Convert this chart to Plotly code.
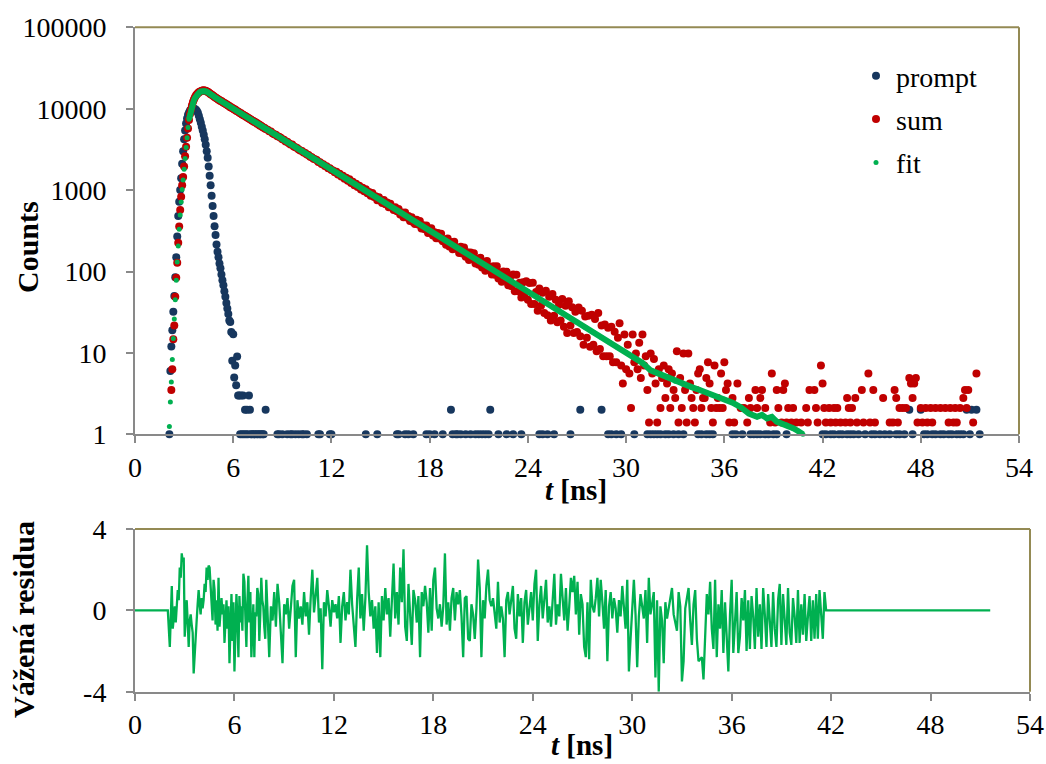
import plotly.graph_objects as go

FONT = "Liberation Serif"
BLUE = "#17375E"
RED = "#C00000"
GREEN = "#00B050"
GRAY = "#898989"
OLIVE = "#948A54"

# ---------------- data ----------------
# TCSPC channel time bases [ns]
EARLY_T0, EARLY_DT = 2.10, 0.06     # fine channels of the rise region
LATE_T0, LATE_DT = 8.1, 0.1         # later channels

# prompt (instrument response), counts per early channel (0 = empty)
prompt_early = [1, 6, 12, 19, 32, 50, 85, 150, 270, 480,
                720, 1000, 1400, 2100, 3000, 4200, 5400, 6600, 7600, 8400,
                9000, 9500, 9800, 10000, 10100, 10000, 9900, 9700, 9400, 8900,
                8200, 7400, 6700, 6000, 5400, 4800, 4200, 3600, 3000, 2500,
                1950, 1500, 1150, 850, 640, 480, 360, 280, 215, 175,
                150, 125, 110, 92, 78, 68, 57, 49, 41, 35,
                30, 25, 24, 18, 8, 17, 5, 7, 4, 9,
                3, 3, 1, 3, 1, 3, 1, 2, 1, 2,
                1, 3, 2, 1, 1, 0, 1, 1, 0, 1,
                1, 0, 1, 1, 0, 1, 1, 0, 2]
# prompt tail: isolated channels with counts
prompt_tail_t = [8.7, 8.8, 9.0, 9.3, 9.5, 9.6, 9.8, 10.0, 10.2, 10.3, 10.5,
                 11.2, 11.3, 11.9, 12.0, 14.1, 14.8, 16.0, 16.1, 16.5, 16.7, 17.0,
                 17.8, 18.0, 18.3, 18.8, 19.3, 19.4, 19.6, 19.7, 19.9, 20.2, 20.5,
                 20.8, 21.0, 21.2, 21.4, 21.6, 21.7, 22.2, 22.7, 23.1, 23.6, 24.7,
                 24.9, 25.2, 25.6, 26.6, 27.2, 28.5, 28.9, 29.1, 29.4, 29.7, 30.5,
                 31.3, 31.5, 31.7, 31.9, 32.1, 32.4, 32.6, 32.9, 33.2, 33.5, 34.4,
                 34.6, 34.9, 35.1, 35.3, 36.5, 36.7, 37.1, 37.6, 37.8, 38.0, 38.2,
                 38.5, 38.7, 39.0, 39.2, 39.8, 42.0, 42.2, 42.5, 42.7, 43.0, 43.2,
                 43.5, 43.7, 43.9, 44.2, 44.6, 45.0, 45.2, 45.5, 45.8, 46.1, 46.5,
                 46.7, 47.0, 47.3, 47.5, 48.0, 48.2, 48.4, 48.7, 48.9, 49.2, 49.4,
                 49.7, 49.9, 50.2, 50.4, 50.6, 50.8, 51.0, 51.1, 51.4, 51.6]
prompt_tail = [1, 1, 1, 1, 1, 1, 1, 1, 1, 1, 1,
               1, 1, 1, 1, 1, 1, 1, 1, 1, 1, 1,
               1, 1, 1, 1, 2, 1, 1, 1, 1, 1, 1,
               1, 1, 1, 1, 1, 2, 1, 1, 1, 1, 1,
               1, 1, 1, 1, 2, 2, 1, 1, 1, 1, 1,
               1, 1, 1, 1, 1, 1, 1, 1, 1, 1, 1,
               1, 1, 1, 1, 1, 1, 1, 1, 1, 1, 1,
               1, 1, 1, 1, 1, 1, 1, 1, 1, 1, 1,
               1, 1, 1, 1, 1, 1, 1, 1, 1, 1, 1,
               1, 1, 2, 1, 2, 1, 1, 1, 1, 1, 1,
               1, 1, 1, 1, 1, 2, 1, 2, 2, 1]

# sum (measured decay), early channels
sum_early = [None, None, 3.5, 6.3, 14.7, 21.7, 49, 84, 128, 226,
             356, 570, 830, 1150, 1450, 1950, 2600, 3400, 4400, 5700,
             7270, 8600, 9800, 11000, 12100, 13000, 13800, 14500, 15100, 15500,
             15900, 16200, 16400, 16600, 16700, 16800, 16650, 16600, 16300, 16100,
             15800, 15500, 15100, 14900, 14500, 14300, 13900, 13750, 13400, 13250,
             12900, 12800, 12450, 12400, 12050, 11950, 11650, 11550, 11250, 11150,
             10850, 10800, 10450, 10450, 10100, 10050, 9800, 9750, 9450, 9400,
             9150, 9050, 8800, 8800, 8500, 8450, 8230, 8200, 7950, 7900,
             7680, 7650, 7420, 7380, 7180, 7120, 6920, 6900, 6700, 6650,
             6450, 6450, 6230, 6200, 6050, 5980, 5830, 5800, 5640]
# sum, later channels 8.1 ... 30.0 ns
sum_late = [5530, 5290, 5230, 5010, 4860, 4800, 4590, 4510, 4390, 4200,
            4150, 3960, 3920, 3760, 3640, 3620, 3440, 3350, 3300, 3150,
            3060, 3030, 2890, 2850, 2730, 2700, 2570, 2540, 2420, 2400,
            2350, 2220, 2200, 2090, 2080, 1980, 1960, 1860, 1860, 1770,
            1740, 1660, 1680, 1560, 1590, 1470, 1500, 1380, 1420, 1300,
            1360, 1220, 1270, 1150, 1200, 1090, 1130, 1020, 1070, 970,
            1026, 912, 951, 851, 923, 821, 838, 751, 815, 739,
            696, 755, 671, 706, 614, 678, 610, 569, 617, 549,
            587, 502, 529, 464, 529, 462, 480, 418, 463, 403,
            383, 433, 377, 416, 338, 371, 330, 367, 298, 334,
            340, 276, 304, 256, 298, 255, 291, 235, 246, 213,
            255, 203, 230, 187, 232, 191, 195, 169, 201, 166,
            197, 152, 172, 138, 171, 142, 168, 125, 141, 121,
            148, 112, 130, 102, 135, 105, 114, 92, 116, 91,
            116, 82, 97, 75, 100, 78, 99, 68, 83, 66,
            92, 57, 91, 57, 73, 48, 74, 53, 76, 45,
            72, 40, 73, 40, 56, 33, 62, 38, 55, 31,
            58, 29, 49, 25, 53, 28.7, 45, 23.8, 39, 25,
            46, 21, 38, 17.5, 43, 21.7, 36.4, 17.5, 32, 18,
            36, 16, 32.9, 12.6, 28, 15.4, 28.7, 11.9, 29.4, 12.6,
            26, 10.5, 31, 11.2, 21.7, 9.1, 22.4, 9.1, 20.3, 9.1,
            21, 7.7, 18.2, 7.7, 15.4, 23.1, 7.0, 4.2, 16.8, 6.3]
# sum tail: non-empty channels beyond 30 ns
sum_tail_t = [30.1, 30.2, 30.3, 30.4, 30.5, 30.6, 30.7, 30.8, 30.9, 31.0,
              31.1, 31.2, 31.3, 31.4, 31.5, 31.6, 31.7, 31.8, 31.9, 32.0,
              32.1, 32.2, 32.3, 32.4, 32.5, 32.6, 32.7, 32.8, 32.9, 33.0,
              33.1, 33.2, 33.3, 33.4, 33.5, 33.6, 33.7, 33.8, 33.9, 34.0,
              34.1, 34.2, 34.3, 34.4, 34.5, 34.6, 34.7, 34.8, 34.9, 35.0,
              35.1, 35.2, 35.3, 35.4, 35.5, 35.6, 35.7, 35.8, 35.9, 36.0,
              36.1, 36.2, 36.3, 36.5, 36.6, 36.8, 37.0, 37.2, 37.4, 37.5,
              37.6, 37.9, 38.0, 38.2, 38.3, 38.5, 38.8, 38.9, 39.1, 39.2,
              39.3, 39.5, 39.6, 39.7, 39.8, 39.9, 40.1, 40.2, 40.4, 40.7,
              41.0, 41.1, 41.2, 41.5, 41.6, 41.7, 41.9, 42.0, 42.1, 42.2,
              42.4, 42.5, 42.7, 42.8, 42.9, 43.1, 43.4, 43.5, 43.6, 43.7,
              43.8, 44.0, 44.1, 44.4, 44.5, 44.8, 44.9, 45.1, 45.2, 45.7,
              46.1, 46.3, 46.4, 46.5, 46.6, 46.7, 46.9, 47.1, 47.3, 47.4,
              47.5, 47.6, 47.7, 47.8, 48.0, 48.1, 48.3, 48.4, 48.6, 48.7,
              48.9, 49.2, 49.5, 49.7, 49.8, 50.0, 50.1, 50.2, 50.4, 50.6,
              50.7, 50.8, 50.9, 51.2, 51.4]
sum_tail = [12.6, 5.6, 2.1, 16.8, 7.7, 9.8, 6.3, 13.3, 4.9, 16.8,
            7.0, 9.1, 3.5, 1.4, 9.8, 5.6, 8.4, 4.2, 1.4, 6.3,
            2.1, 4.9, 7.0, 2.8, 4.2, 6.3, 2.1, 5.6, 3.5, 2.8,
            10.5, 1.4, 4.9, 2.1, 9.8, 3.5, 1.4, 9.8, 4.2, 2.8,
            2.1, 1.4, 3.5, 5.6, 6.3, 2.1, 2.8, 2.8, 4.9, 7.7,
            4.2, 2.1, 1.4, 7.0, 2.1, 2.8, 2.1, 5.6, 2.1, 7.7,
            3.5, 4.2, 1.4, 2.8, 1.4, 4.2, 2.1, 2.1, 1.4, 2.8,
            2.1, 3.5, 2.1, 2.8, 3.5, 2.1, 1.4, 5.6, 1.4, 3.5,
            2.1, 1.4, 3.5, 4.2, 1.4, 2.1, 1.4, 2.1, 1.4, 1.4,
            2.1, 1.4, 3.5, 3.5, 2.1, 1.4, 7.0, 4.2, 2.1, 1.4,
            2.1, 1.4, 2.1, 1.4, 2.1, 1.4, 1.4, 2.8, 2.1, 1.4,
            2.1, 2.8, 1.4, 3.5, 1.4, 5.6, 1.4, 3.5, 1.4, 2.8,
            1.4, 1.4, 3.5, 2.8, 1.4, 2.1, 2.1, 2.1, 4.9, 4.2,
            2.8, 4.2, 4.9, 1.4, 2.1, 1.4, 2.1, 1.4, 2.1, 1.4,
            2.1, 2.1, 2.1, 1.4, 2.1, 1.4, 2.1, 1.4, 2.1, 2.8,
            3.5, 2.1, 3.5, 1.4, 5.6]

# fit: rise on the early channels, then the decay
fit_rise = [1.25, 2.5, 4.4, 8.3, 15, 26, 45, 78, 131, 206,
            330, 494, 713, 1020, 1330, 1800, 2440, 3330, 4410, 5880,
            7400, 8600, 9700, 10800, 11800, 12700, 13500, 14200, 14800, 15300,
            15700, 16000, 16250, 16400, 16500, 16500, 16450, 16350, 16200, 16000,
            15750, 15450, 15150, 14850, 14550, 14250, 13950, 13700, 13450, 13200]
fit_decay_t = [5.5, 6.0, 6.5, 7.0, 7.5, 8.0, 8.5, 9.0, 9.5, 10.0,
               10.5, 11.0, 11.5, 12.0, 12.5, 13.0, 13.5, 14.0, 14.5, 15.0,
               15.5, 16.0, 16.5, 17.0, 17.5, 18.0, 18.5, 19.0, 19.5, 20.0,
               20.5, 21.0, 21.5, 22.0, 22.5, 23.0, 23.5, 24.0, 24.5, 25.0,
               25.5, 26.0, 26.5, 27.0, 27.5, 28.0, 28.5, 29.0, 29.5, 30.0,
               30.5, 31.0, 31.5, 32.0, 32.5, 33.0, 33.5, 34.0, 34.5, 35.0,
               35.5, 36.0, 36.5, 37.0, 37.5, 38.0, 38.3, 38.6, 38.9, 39.2,
               39.5, 39.8, 40.2, 40.5, 40.8]
fit_decay = [11600, 10060, 8710, 7540, 6530, 5655, 4900, 4240, 3670, 3180,
             2754, 2385, 2065, 1789, 1549, 1341, 1161, 1006, 871, 754,
             653, 566, 490, 424, 367, 318, 275, 239, 207, 179,
             155, 134, 116, 101, 87, 75.4, 65.3, 56.6, 49.0, 42.4,
             36.7, 31.8, 27.6, 23.9, 20.7, 17.9, 15.5, 13.4, 11.6, 10.1,
             8.7, 7.55, 6.1, 5.5, 5.0, 4.5, 4.1, 3.8, 3.5, 3.2,
             2.9, 2.7, 2.45, 2.15, 1.8, 1.64, 1.73, 1.57, 1.64, 1.43,
             1.36, 1.30, 1.19, 1.10, 1.0]

# weighted residuals
resid_lead_t = [0.0, 1.98]
resid_lead = [0.0, 0.0]
resid_early = [-1.8, 0.4, 1.2, -0.9, -0.3, 0.2, -0.6, 0.6, 1.0, 0.5,
               2.1, 1.6, 2.8, 2.4, 2.6, -1.3, 0.1, 0.5, -0.6, -1.8,
               -0.5, -0.2, -0.7, -1.1, -3.1, -2.4, -1.6, -0.5, 0.3, 1.0,
               0.3, -0.2, 0.6, 0.1, 0.5, 1.3, 0.9, 2.1, 1.5, 2.2,
               2.1, 1.2, 0.6, -0.5, 1.5, 1.0, -0.7, 0.5, -1.0, 1.6,
               -0.8, 0.1, 0.6, -0.2, 0.3, -1.6, -0.4, 0.5, -0.9, 0.2,
               -2.6, -0.3, 0.8, -1.5, 0.4, -3.0, -0.8, 0.8, -0.4, -2.3,
               0.7, -0.6, 0.2, -1.0, 1.8, 1.4, -0.3, -1.8, 0.4, 1.7,
               -0.6, 0.9, -2.3, -0.4, 0.3, -2.3, -0.1, -0.3, 1.1, 0.8,
               -1.5, -0.2, 1.6, 0.5, 0.2, -0.8, -1.4, 1.5, 0.4]
resid_late = [-2.3, 0.2, -0.5, 0.9, -0.8, 1.3, 0.4, -1.1, -2.6, 0.3,
              -0.2, 0.6, -0.9, 0.1, 1.2, 1.5, -2.3, 0.5, -0.4, 0.2,
              -0.7, 0.9, -0.3, 0.4, -1.2, 0.6, 2.0, -0.1, 0.8, 1.6,
              -0.6, 0.1, -2.9, 0.4, -0.3, 1.0, 0.2, -0.8, 0.5, -0.1,
              0.3, -0.4, 0.7, -1.6, 0.2, 0.9, -0.5, 0.4, -0.2, 2.0,
              0.3, -0.6, -1.8, 0.5, 2.1, -0.4, 0.8, -1.0, 0.6, 3.2,
              0.9, -0.3, 0.5, -0.9, 0.2, -2.1, 0.4, -2.3, 0.7, -0.5,
              1.1, -0.2, 0.6, -1.3, 0.3, 2.3, -0.4, 0.9, -0.7, 2.1,
              0.4, 3.0, -0.8, -1.5, 1.3, -0.2, -1.7, 1.0, 0.5, -0.6,
              0.7, -2.3, 0.9, 0.2, 1.2, 0.4, -1.1, 1.1, -1.0, 1.5,
              2.1, 0.1, -0.4, 0.3, -0.8, 0.2, 2.8, -0.7, 0.4, -1.0,
              0.6, 1.1, -0.5, 0.9, 0.3, 1.0, -0.3, -2.3, 0.6, 0.7,
              -1.4, -1.5, 0.3, -0.2, -1.4, 0.1, 2.5, 1.1, -2.3, 0.5,
              -0.4, 1.2, 2.0, 0.5, 0.2, 0.6, -0.3, -0.9, 1.4, -0.6,
              0.2, -0.4, -2.3, 0.5, 0.9, -0.2, 0.5, 1.2, -0.9, -1.4,
              0.8, -0.3, 0.6, -1.6, 0.4, 1.0, -0.7, 0.3, 0.9, -0.5,
              1.3, 2.0, -1.5, 0.3, 1.2, -0.4, 0.5, 1.5, -0.6, 0.2,
              -0.8, 0.4, 1.8, -0.7, 0.3, -0.3, 1.8, 0.6, -0.5, 1.1,
              -1.0, 0.2, 1.6, 0.9, 1.7, -0.2, 1.4, -1.2, 0.8, 0.3,
              -1.8, -2.3, 0.4, -2.4, 1.5, 0.2, -0.1, 0.6, 1.6, -0.3,
              1.5, 0.4, -0.9, 1.0, -2.5, 0.2, 0.9, -0.4, 0.6, 0.1,
              -1.1, 0.5, -0.3, 1.2, 0.2, -0.9, 1.5, -3.0, -1.4, 0.4,
              1.5, -0.2, -2.8, -0.3, 0.8, 0.2, -0.4, 1.0, -1.6, 1.6,
              -0.2, 0.3, 0.9, -3.3, 0.5, -4.0, 0.2, -0.5, -2.6, 0.4,
              -0.4, 0.1, 0.7, 1.1, -0.2, -0.6, -1.0, 0.9, 0.2, -3.5,
              -2.5, 0.1, 0.6, 1.1, -0.5, -1.7, 0.3, 1.0, -1.4, -2.5,
              -2.4, -2.3, -3.4, -1.2, 0.8, -0.2, 1.4, -0.9, -1.9, 1.5,
              -2.3, 0.3, -0.9, 1.0, -2.1, 0.4, -1.1, -3.0, -0.2, 1.5,
              -2.1, -0.4, 0.9, -2.1, -1.3, 0.6, -0.5, 1.0, -2.0, 0.5,
              -1.9, 0.7, -0.3, -1.9, 1.1, -1.3, 0.3, -1.9, 1.1, -0.2,
              -1.8, 0.8, -0.6, -1.8, 0.9, -0.9, -1.8, 0.5, 1.3, -1.7,
              0.8, -0.4, -1.7, 1.1, -1.1, -1.7, 0.6, -0.3, -1.6, 1.0,
              -1.6, 0.3, -1.2, 0.8, -1.5, -0.3, 0.7, -1.5, 0.5, -1.4,
              0.8, -1.4, 1.0, -0.2, -1.4, 0.9, 0.0]
resid_trail_t = [51.6]
resid_trail = [0.0]

x_ticks = [0, 6, 12, 18, 24, 30, 36, 42, 48, 54]
y_ticks = [1, 10, 100, 1000, 10000, 100000]
y_ticklabels = ["1", "10", "100", "1000", "10000", "100000"]
r_ticks = [-4, 0, 4]


# ---------------- assemble channel times ----------------
def early_times(n):
    return [round(EARLY_T0 + EARLY_DT * i, 2) for i in range(n)]


def late_times(n):
    return [round(LATE_T0 + LATE_DT * j, 1) for j in range(n)]


def drop_empty(ts, vs):
    xs, ys = [], []
    for t, v in zip(ts, vs):
        if v is not None and v > 0:
            xs.append(t)
            ys.append(v)
    return xs, ys


p_x, p_y = drop_empty(early_times(len(prompt_early)) + prompt_tail_t,
                      prompt_early + prompt_tail)
s_x, s_y = drop_empty(early_times(len(sum_early)) + late_times(len(sum_late)) + sum_tail_t,
                      sum_early + sum_late + sum_tail)
f_x = early_times(len(fit_rise)) + fit_decay_t
f_y = fit_rise + fit_decay
r_x = resid_lead_t + early_times(len(resid_early)) + late_times(len(resid_late)) + resid_trail_t
r_y = resid_lead + resid_early + resid_late + resid_trail

# line part of the fit (dense region where the markers merge into a band)
f_line_x = [t for t in f_x if t >= 3.3]
f_line_y = [v for t, v in zip(f_x, f_y) if t >= 3.3]

# ---------------- figure ----------------
W, H = 1046, 764


def px(x):
    return x / W


def py(y):
    return (H - y) / H


TOP = dict(l=135, r=1019, t=27.3, b=434.3)
BOT = dict(l=135, r=1030, t=529, b=691.7)

fig = go.Figure()
fig.add_trace(go.Scatter(x=p_x, y=p_y, mode="markers", name="prompt",
                         marker=dict(color=BLUE, size=8, line=dict(width=0)),
                         cliponaxis=False, legendgroup="p",
                         xaxis="x", yaxis="y"))
fig.add_trace(go.Scatter(x=s_x, y=s_y, mode="markers", name="sum",
                         marker=dict(color=RED, size=8, line=dict(width=0)),
                         cliponaxis=False, legendgroup="s",
                         xaxis="x", yaxis="y"))
fig.add_trace(go.Scatter(x=f_line_x, y=f_line_y, mode="lines", name="fit",
                         line=dict(color=GREEN, width=6), showlegend=False,
                         cliponaxis=False, legendgroup="f",
                         xaxis="x", yaxis="y"))
fig.add_trace(go.Scatter(x=f_x, y=f_y, mode="markers", name="fit",
                         marker=dict(color=GREEN, size=5, line=dict(width=0)),
                         cliponaxis=False, legendgroup="f",
                         xaxis="x", yaxis="y"))
fig.add_trace(go.Scatter(x=r_x, y=r_y, mode="lines", name="residua",
                         line=dict(color=GREEN, width=2.3), showlegend=False,
                         xaxis="x2", yaxis="y2"))

tickfont = dict(family=FONT, size=28, color="black")
common = dict(showline=True, linecolor=GRAY, linewidth=2, ticks="outside",
              ticklen=7, tickwidth=2, tickcolor=GRAY, showgrid=False,
              zeroline=False, tickfont=tickfont, fixedrange=True,
              automargin=False)

fig.update_layout(
    width=W, height=H,
    margin=dict(l=0, r=0, t=0, b=0, pad=0),
    paper_bgcolor="white", plot_bgcolor="white",
    xaxis=dict(domain=[px(TOP["l"]), px(TOP["r"])], anchor="y", range=[0, 54],
               tickvals=x_ticks, ticktext=[str(v) for v in x_ticks], **common),
    yaxis=dict(domain=[py(TOP["b"]), py(TOP["t"])], anchor="x", type="log",
               range=[0, 5], tickvals=y_ticks, ticktext=y_ticklabels,
               ticklabelstandoff=14, **common),
    xaxis2=dict(domain=[px(BOT["l"]), px(BOT["r"])], anchor="y2", range=[0, 54],
                tickvals=x_ticks, ticktext=[str(v) for v in x_ticks], **common),
    yaxis2=dict(domain=[py(BOT["b"]), py(BOT["t"])], anchor="x2", range=[-4, 4],
                tickvals=r_ticks, ticktext=[str(v) for v in r_ticks],
                ticklabelstandoff=14, **common),
    legend=dict(x=px(856), y=py(51), xanchor="left", yanchor="top",
                font=dict(family=FONT, size=28, color="black"),
                bgcolor="rgba(255,255,255,0)", borderwidth=0,
                traceorder="grouped", tracegroupgap=4),
    showlegend=True,
)

# top / right frame lines (olive)
for box in (TOP, BOT):
    fig.add_shape(type="line", xref="paper", yref="paper",
                  x0=px(box["l"]), x1=px(box["r"]), y0=py(box["t"]), y1=py(box["t"]),
                  line=dict(color=OLIVE, width=2))
    fig.add_shape(type="line", xref="paper", yref="paper",
                  x0=px(box["r"]), x1=px(box["r"]), y0=py(box["t"]), y1=py(box["b"]),
                  line=dict(color=OLIVE, width=2))

title_font = dict(family=FONT, size=30, color="black")
t_font = dict(family=FONT, size=29, color="black")
fig.add_annotation(text="<b>Counts</b>", xref="paper", yref="paper",
                   x=px(28), y=py(247), textangle=-90, showarrow=False,
                   xanchor="center", yanchor="middle", font=title_font)
fig.add_annotation(text="<b><i>t</i> [ns]</b>", xref="paper", yref="paper",
                   x=px(576), y=py(490), showarrow=False,
                   xanchor="center", yanchor="middle", font=t_font)
fig.add_annotation(text="<b>Vážená residua</b>", xref="paper", yref="paper",
                   x=px(23), y=py(620), textangle=-90, showarrow=False,
                   xanchor="center", yanchor="middle", font=title_font)
fig.add_annotation(text="<b><i>t</i> [ns]</b>", xref="paper", yref="paper",
                   x=px(582), y=py(745), showarrow=False,
                   xanchor="center", yanchor="middle", font=t_font)

fig.write_html("out.html")
